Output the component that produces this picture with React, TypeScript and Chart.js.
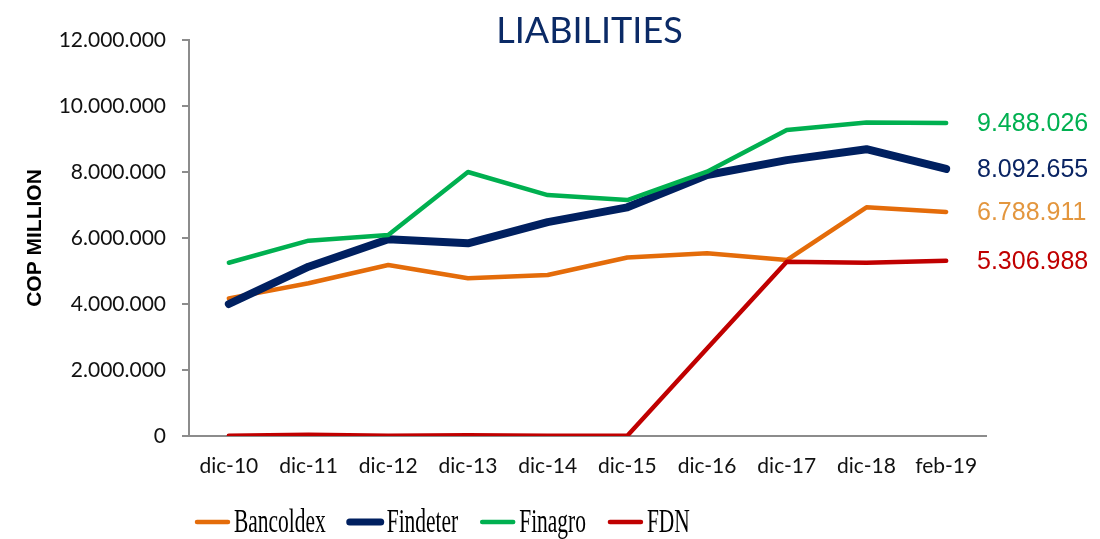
import React, { useEffect, useRef } from "react";
import { Chart, registerables } from "chart.js";

Chart.register(...registerables);

const titleText = "LIABILITIES";
const yAxisTitle = "COP MILLION";
const categories = ["dic-10", "dic-11", "dic-12", "dic-13", "dic-14", "dic-15", "dic-16", "dic-17", "dic-18", "feb-19"];
const seriesNames = ["Bancoldex", "Findeter", "Finagro", "FDN"];
const bancoldex = [4170000, 4630000, 5180000, 4780000, 4880000, 5410000, 5540000, 5330000, 6930000, 6788911];
const findeter = [4000000, 5130000, 5960000, 5840000, 6480000, 6930000, 7910000, 8360000, 8690000, 8092655];
const finagro = [5250000, 5920000, 6090000, 8000000, 7300000, 7150000, 8010000, 9270000, 9500000, 9488026];
const fdn = [10000, 40000, 5000, 20000, 5000, 10000, 2650000, 5280000, 5250000, 5306988];
const lineColors = ["#E46C0A", "#002060", "#00B050", "#C00000"];
const labelColors = ["#E3963E", "#0A2463", "#00B050", "#C00000"];
const lineWidths = [4.5, 8, 4.5, 4.5];
const yMin = 0;
const yMax = 12000000;
const yStep = 2000000;

const fmt = (n: number) => Math.round(n).toString().replace(/\B(?=(\d{3})+(?!\d))/g, ".");

const decorPlugin = {
  id: "decor",
  afterDraw(chart: any) {
    const ctx: CanvasRenderingContext2D = chart.ctx;
    const area = chart.chartArea;
    ctx.save();
    // title
    ctx.fillStyle = "#0B2A66";
    ctx.font = "36px Lato";
    ctx.textAlign = "center";
    ctx.textBaseline = "alphabetic";
    ctx.fillText(titleText, (area.left + area.right) / 2 + 2, 43);

    // y axis title
    ctx.save();
    ctx.translate(35, (area.top + area.bottom) / 2);
    ctx.rotate(-Math.PI / 2);
    ctx.font = "bold 21px 'Liberation Sans'";
    ctx.fillStyle = "#000";
    ctx.textAlign = "center";
    ctx.textBaseline = "middle";
    ctx.fillText(yAxisTitle, 0, 0);
    ctx.restore();

    // end labels
    ctx.font = "25px 'Liberation Sans'";
    ctx.textAlign = "left";
    ctx.textBaseline = "middle";
    chart.data.datasets.forEach((ds: any, i: number) => {
      const meta = chart.getDatasetMeta(i);
      const pt = meta.data[meta.data.length - 1];
      const v = ds.data[ds.data.length - 1];
      ctx.fillStyle = labelColors[i];
      ctx.fillText(fmt(v), 977, pt.y + 1);
    });

    // legend
    let x = 195;
    const ly = 522;
    ctx.font = "33px 'Liberation Serif'";
    ctx.textBaseline = "alphabetic";
    seriesNames.forEach((name, i) => {
      ctx.strokeStyle = lineColors[i];
      ctx.lineWidth = i === 1 ? 7 : 4.5;
      ctx.lineCap = "round";
      ctx.beginPath();
      ctx.moveTo(x + 2, ly);
      ctx.lineTo(x + 33, ly);
      ctx.stroke();
      x += 39;
      const sx = 0.65;
      const w = ctx.measureText(name).width * sx;
      ctx.save();
      ctx.translate(x, 532);
      ctx.scale(sx, 1);
      ctx.fillStyle = "#000";
      ctx.fillText(name, 0, 0);
      ctx.restore();
      x += w + 22;
    });
    ctx.restore();
  },
};

export default function App() {
  const ref = useRef<HTMLCanvasElement>(null);
  useEffect(() => {
    if (!ref.current) return;
    const seriesData = [bancoldex, findeter, finagro, fdn];
    const chart = new Chart(ref.current, {
      type: "line",
      data: {
        labels: categories,
        datasets: seriesNames.map((name, i) => ({
          label: name,
          data: seriesData[i],
          borderColor: lineColors[i],
          backgroundColor: lineColors[i],
          borderWidth: lineWidths[i],
          pointRadius: 0,
          pointHoverRadius: 0,
          borderJoinStyle: "round" as const,
          borderCapStyle: "round" as const,
          tension: 0,
          order: 4 - i,
        })),
      },
      options: {
        animation: false,
        responsive: true,
        maintainAspectRatio: false,
        layout: { padding: { left: 0, right: 114, top: 40, bottom: 0 } },
        plugins: { legend: { display: false }, title: { display: false }, tooltip: { enabled: false } },
        scales: {
          x: {
            type: "category",
            offset: true,
            grid: { display: true, drawOnChartArea: false, drawTicks: false },
            border: { display: true, color: "#8C8C8C", width: 2 },
            ticks: { color: "#111", font: { family: "Lato", size: 21 }, padding: 18, maxRotation: 0, autoSkip: false },
            afterFit: (s: any) => { s.height = 103; },
          },
          y: {
            min: yMin,
            max: yMax,
            grid: { display: true, drawOnChartArea: false, drawTicks: true, tickLength: 7, color: "#8C8C8C", lineWidth: 2 },
            border: { display: true, color: "#8C8C8C", width: 2 },
            ticks: {
              stepSize: yStep,
              color: "#111",
              font: { family: "Lato", size: 21 },
              padding: 16,
              callback: (v: any) => fmt(Number(v)),
            },
            afterFit: (s: any) => { s.width = 189; },
          },
        },
      },
      plugins: [decorPlugin],
    });
    return () => chart.destroy();
  }, []);
  return (
    <div style={{ position: "fixed", left: 0, top: 0, width: 1100, height: 539, background: "#fff" }}>
      <canvas ref={ref} />
    </div>
  );
}
